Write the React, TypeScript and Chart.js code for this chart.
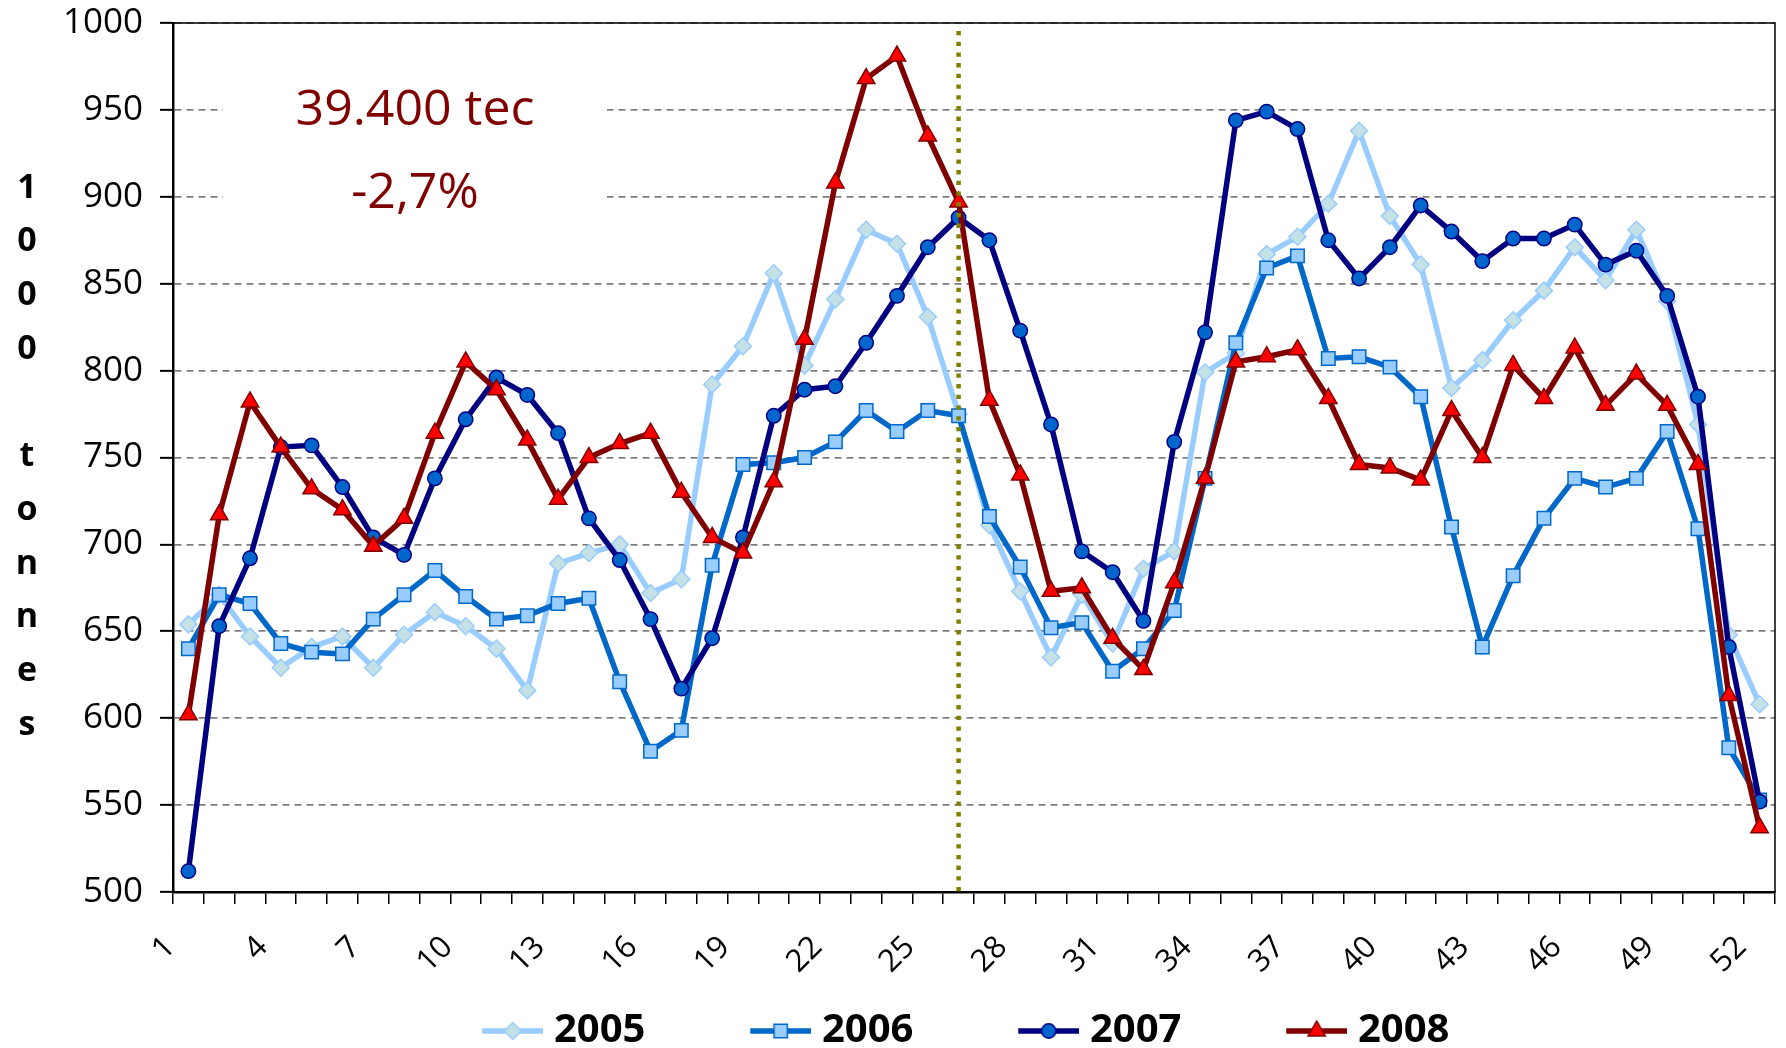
import React, { useEffect, useRef } from 'react';
import { Chart, registerables } from 'chart.js';

Chart.register(...registerables);

// ---------- data ----------
const weeks = [
  '1', '2', '3', '4', '5', '6', '7', '8', '9', '10',
  '11', '12', '13', '14', '15', '16', '17', '18', '19', '20',
  '21', '22', '23', '24', '25', '26', '27', '28', '29', '30',
  '31', '32', '33', '34', '35', '36', '37', '38', '39', '40',
  '41', '42', '43', '44', '45', '46', '47', '48', '49', '50',
  '51', '52',
];

const s2005 = [
  654, 671, 647, 629, 641, 647, 629, 648, 661, 653,
  640, 616, 689, 695, 700, 672, 680, 792, 814, 856,
  803, 841, 881, 873, 831, 775, 711, 673, 635, 671,
  643, 686, 696, 799, 810, 867, 877, 896, 938, 889,
  861, 790, 806, 829, 846, 871, 852, 881, 840, 769,
  648, 608,
];
const s2006 = [
  640, 671, 666, 643, 638, 637, 657, 671, 685, 670,
  657, 659, 666, 669, 621, 581, 593, 688, 746, 747,
  750, 759, 777, 765, 777, 774, 716, 687, 652, 655,
  627, 640, 662, 738, 816, 859, 866, 807, 808, 802,
  785, 710, 641, 682, 715, 738, 733, 738, 765, 709,
  583, 553,
];
const s2007 = [
  512, 653, 692, 756, 757, 733, 704, 694, 738, 772,
  796, 786, 764, 715, 691, 657, 617, 646, 704, 774,
  789, 791, 816, 843, 871, 888, 875, 823, 769, 696,
  684, 656, 759, 822, 944, 949, 939, 875, 853, 871,
  895, 880, 863, 876, 876, 884, 861, 869, 843, 785,
  641, 552,
];
const s2008 = [
  602, 717, 782, 756, 732, 720, 699, 715, 764, 805,
  789, 760, 726, 750, 758, 764, 730, 704, 695, 736,
  818, 908, 968, 981, 935, 897, 783, 740, 673, 675,
  646, 628, 678, 738, 805, 808, 812, 784, 746, 744,
  737, 777, 750, 803, 784, 813, 780, 798, 780, 746,
  613, 537,
];

const seriesLabels = ['2005', '2006', '2007', '2008'];
const yMin = 500;
const yMax = 1000;
const yStep = 50;
const labelEvery = 3;
const markerWeek = '26';
const noteLines = ['39.400 tec', '-2,7%'];
const yTitleChars = ['1', '0', '0', '0', ' ', 't', 'o', 'n', 'n', 'e', 's'];

// ---------- styles ----------
const FONT = '"Open Sans", "DejaVu Sans", sans-serif';
const styles = [
  { line: '#99CCFF', fill: '#C4E2E6', border: '#99CCFF', shape: 'rectRot', r: 8.5 },
  { line: '#0068C8', fill: '#99CCFF', border: '#0068C8', shape: 'rect', r: 9.5 },
  { line: '#000080', fill: '#0066CC', border: '#000080', shape: 'circle', r: 7.2 },
  { line: '#800000', fill: '#FF0000', border: '#800000', shape: 'triangle', r: 10 },
];

function drawMarker(g: CanvasRenderingContext2D, shape: string, x: number, y: number, r: number) {
  g.beginPath();
  if (shape === 'circle') {
    g.arc(x, y, r, 0, Math.PI * 2);
  } else if (shape === 'rect') {
    const h = r * Math.SQRT1_2;
    g.rect(x - h, y - h, 2 * h, 2 * h);
  } else if (shape === 'rectRot') {
    g.moveTo(x, y - r);
    g.lineTo(x + r, y);
    g.lineTo(x, y + r);
    g.lineTo(x - r, y);
    g.closePath();
  } else {
    let a = 0;
    g.moveTo(x + Math.sin(a) * r, y - Math.cos(a) * r);
    a += (2 * Math.PI) / 3;
    g.lineTo(x + Math.sin(a) * r, y - Math.cos(a) * r);
    a += (2 * Math.PI) / 3;
    g.lineTo(x + Math.sin(a) * r, y - Math.cos(a) * r);
    g.closePath();
  }
  g.fill();
  g.stroke();
}

function makeLegendIcon(i: number, W: number) {
  const st = styles[i];
  const c = document.createElement('canvas');
  c.width = Math.round(W);
  c.height = 28;
  const g = c.getContext('2d')!;
  const lineLen = 61;
  g.strokeStyle = st.line;
  g.lineWidth = 5.5;
  g.beginPath();
  g.moveTo(c.width - lineLen, 14);
  g.lineTo(c.width, 14);
  g.stroke();
  g.fillStyle = st.fill;
  g.strokeStyle = st.border;
  g.lineWidth = 1.5;
  drawMarker(g, st.shape, c.width - lineLen / 2, 14, st.r);
  return c;
}

export default function App() {
  const ref = useRef<HTMLCanvasElement>(null);

  useEffect(() => {
    document.body.style.margin = '0';
    const canvas = ref.current!;
    Chart.defaults.font.family = FONT;
    Chart.defaults.color = '#000';

    const legendFontSize = 40;
    const legendPad = 13;
    const mctx = document.createElement('canvas').getContext('2d')!;
    mctx.font = `bold ${legendFontSize}px ${FONT}`;
    const tw = mctx.measureText('2005').width;
    const stride = 268;
    const boxW = Math.max(70, stride - legendFontSize / 2 - tw - legendPad);
    const iconW = boxW + 18;
    const firstLineStart = 482;
    const firstItemX = firstLineStart - (boxW - 52);

    const allData = [s2005, s2006, s2007, s2008];
    const datasets = allData.map((d, i) => ({
      label: seriesLabels[i],
      data: d,
      borderColor: styles[i].line,
      backgroundColor: styles[i].fill,
      borderWidth: 5.5,
      pointStyle: styles[i].shape,
      pointRadius: styles[i].r,
      pointBackgroundColor: styles[i].fill,
      pointBorderColor: styles[i].border,
      pointBorderWidth: 1.5,
      tension: 0,
      fill: false,
      order: 3 - i,
    }));

    const decor = {
      id: 'decor',
      afterLayout(chart: any) {
        if (chart.legend) {
          chart.legend.left = firstItemX - legendPad;
          chart.legend.top += 13;
          chart.legend.bottom += 13;
        }
      },
      beforeDatasetsDraw(chart: any) {
        const { ctx, chartArea } = chart;
        ctx.save();
        ctx.strokeStyle = '#000';
        ctx.lineWidth = 1.5;
        ctx.strokeRect(chartArea.left, chartArea.top, chartArea.right - chartArea.left, chartArea.bottom - chartArea.top);
        ctx.fillStyle = '#fff';
        ctx.fillRect(223, 45, 384, 200);
        ctx.fillStyle = '#800000';
        ctx.font = `50px ${FONT}`;
        ctx.textAlign = 'center';
        ctx.textBaseline = 'alphabetic';
        ctx.fillText(noteLines[0], 415, 125);
        ctx.fillText(noteLines[1], 415, 208);
        ctx.restore();
      },
      afterDatasetsDraw(chart: any) {
        const { ctx, chartArea } = chart;
        const x = chart.scales.x.getPixelForValue(weeks.indexOf(markerWeek));
        ctx.save();
        ctx.strokeStyle = '#808000';
        ctx.lineWidth = 4.5;
        ctx.lineCap = 'butt';
        ctx.setLineDash([4.3, 6.4]);
        ctx.beginPath();
        ctx.moveTo(x, chartArea.top + 8);
        ctx.lineTo(x, chartArea.bottom);
        ctx.stroke();
        ctx.restore();
      },
      afterDraw(chart: any) {
        const { ctx } = chart;
        ctx.save();
        ctx.fillStyle = '#000';
        ctx.font = `bold 34px ${FONT}`;
        ctx.textAlign = 'center';
        ctx.textBaseline = 'middle';
        yTitleChars.forEach((ch, i) => {
          if (ch.trim()) ctx.fillText(ch, 27, 188 + 53.7 * i);
        });
        ctx.restore();
      },
    };

    const chart = new Chart(canvas, {
      type: 'line',
      data: { labels: weeks, datasets: datasets as any },
      options: {
        responsive: false,
        animation: false,
        devicePixelRatio: 1,
        events: [],
        layout: { autoPadding: false, padding: { top: 23, right: 11, bottom: 0, left: 0 } } as any,
        plugins: {
          tooltip: { enabled: false },
          legend: {
            position: 'bottom',
            align: 'start',
            labels: {
              usePointStyle: true,
              pointStyleWidth: boxW,
              padding: legendPad,
              color: '#000',
              font: { size: legendFontSize, weight: 'bold', family: FONT },
              generateLabels: (ch: any) =>
                ch.data.datasets.map((ds: any, i: number) => ({
                  text: ds.label,
                  pointStyle: makeLegendIcon(i, iconW),
                  fillStyle: 'rgba(0,0,0,0)',
                  strokeStyle: 'rgba(0,0,0,0)',
                  lineWidth: 0,
                  hidden: false,
                  datasetIndex: i,
                  fontColor: '#000',
                })),
            },
          },
        },
        scales: {
          x: {
            type: 'category',
            offset: true,
            afterFit: (scale: any) => {
              scale.height = 93;
              scale.paddingLeft = 0;
              scale.paddingRight = 0;
              scale.paddingTop = 0;
              scale.paddingBottom = 0;
            },
            grid: {
              offset: true,
              drawOnChartArea: false,
              drawTicks: true,
              tickLength: 12,
              color: '#000',
              lineWidth: 1.5,
            },
            border: { display: true, color: '#000', width: 2.5 },
            ticks: {
              autoSkip: false,
              minRotation: 45,
              maxRotation: 45,
              labelOffset: -18,
              padding: 25,
              color: '#000',
              font: { size: 31, family: FONT },
              callback: (_v: any, idx: number) => (idx % labelEvery === 0 ? weeks[idx] : ''),
            },
          },
          y: {
            min: yMin,
            max: yMax,
            afterFit: (scale: any) => {
              scale.width = 173;
              scale.paddingLeft = 0;
              scale.paddingRight = 0;
              scale.paddingTop = 0;
              scale.paddingBottom = 0;
            },
            grid: {
              color: '#808080',
              lineWidth: 1.7,
              tickLength: 13,
              tickColor: '#000',
              tickWidth: 2,
              tickBorderDash: [],
            } as any,
            border: { display: true, color: '#000', width: 2.5, dash: [7, 5] },
            ticks: {
              stepSize: yStep,
              padding: 17,
              color: '#000',
              font: { size: 35, family: FONT },
              callback: (v: any) => String(v),
            },
          },
        },
      } as any,
      plugins: [decor as any],
    });

    return () => chart.destroy();
  }, []);

  return (
    <div style={{ width: 1786, height: 1048 }}>
      <canvas ref={ref} width={1786} height={1048} style={{ display: 'block' }} />
    </div>
  );
}
